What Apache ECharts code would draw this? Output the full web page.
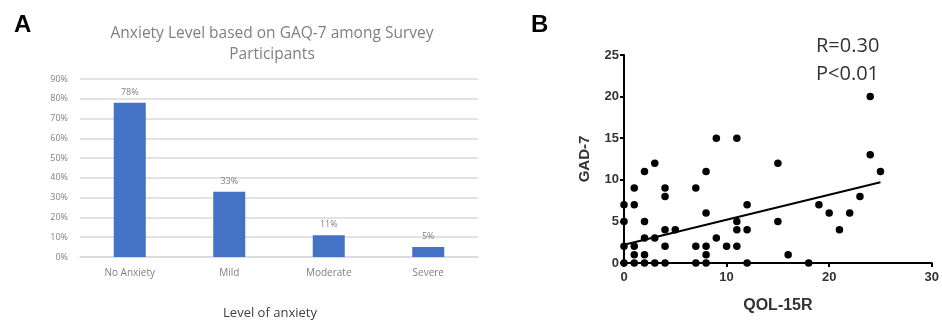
<!DOCTYPE html>
<html>
<head>
<meta charset="utf-8">
<script src="https://cdn.jsdelivr.net/npm/echarts@6/dist/echarts.min.js"></script>
<style>
  html, body { margin: 0; padding: 0; background: #fff; }
  #main { width: 942px; height: 320px; }
</style>
</head>
<body>
<div id="main"></div>
<script>
// panel A data
var levels = ['No Anxiety', 'Mild', 'Moderate', 'Severe'];
var levelPct = [78, 33, 11, 5];

// panel B data: [QOL-15R, GAD-7]
var qolGad = [
    [0,0],[0,2],[0,5],[0,7],
    [1,0],[1,1],[1,2],[1,7],[1,9],
    [2,0],[2,1],[2,3],[2,5],[2,11],
    [3,0],[3,3],[3,12],
    [4,0],[4,2],[4,4],[4,8],[4,9],
    [5,4],
    [7,0],[7,2],[7,9],
    [8,0],[8,1],[8,2],[8,6],[8,11],
    [9,3],[9,15],
    [10,2],
    [11,2],[11,4],[11,5],[11,15],
    [12,0],[12,4],[12,7],
    [15,5],[15,12],
    [16,1],
    [18,0],
    [19,7],
    [20,6],
    [21,4],
    [22,6],
    [23,8],
    [24,13],[24,20],
    [25,11]
];
// fitted line end points
var fitLine = [[0, 2.2], [25, 9.7]];

window.onload = function(){
    var myChart = echarts.init(document.getElementById('main'));
    var grayText = '#808080';
    var boldAxisLabel = {fontFamily: 'Liberation Sans', fontWeight: 'bold', fontSize: 13, color: '#333'};
    var option = {
        backgroundColor: '#fff',
        animation: false,
        title: [
            {
                text: 'A', left: 9, top: 8,
                textStyle: {fontFamily: 'Liberation Sans', fontWeight: 'bold', fontSize: 24, color: '#000'}
            },
            {
                text: 'B', left: 526, top: 8,
                textStyle: {fontFamily: 'Liberation Sans', fontWeight: 'bold', fontSize: 24, color: '#000'}
            },
            {
                text: 'Anxiety Level based on GAQ-7 among Survey\nParticipants',
                left: 267, top: 18, textAlign: 'center',
                textStyle: {fontFamily: 'Open Sans', fontWeight: 'normal', fontSize: 15.5, color: '#7f7f7f', lineHeight: 21}
            },
            {
                text: 'Level of anxiety',
                left: 265, top: 302, textAlign: 'center',
                textStyle: {fontFamily: 'Open Sans', fontWeight: 'normal', fontSize: 13, color: '#404040'}
            },
            {
                text: 'R=0.30\nP<0.01',
                left: 811, top: 27,
                textStyle: {fontFamily: 'Open Sans', fontWeight: 'normal', fontSize: 20, color: '#333', lineHeight: 28}
            }
        ],
        grid: [
            {left: 80, right: 464, top: 79, bottom: 63},
            {left: 624, right: 5.5, top: 55, bottom: 57}
        ],
        xAxis: [
            {
                gridIndex: 0,
                type: 'category',
                data: levels,
                axisLine: {lineStyle: {color: '#d9d9d9', width: 1.5}},
                axisTick: {show: false},
                axisLabel: {fontFamily: 'Open Sans', fontSize: 10, color: grayText, margin: 11}
            },
            {
                gridIndex: 1,
                type: 'value',
                min: 0, max: 30, interval: 10,
                name: 'QOL-15R',
                nameLocation: 'middle',
                nameGap: 35,
                nameTextStyle: {fontFamily: 'Liberation Sans', fontWeight: 'bold', fontSize: 16, color: '#333'},
                axisLine: {onZero: false, lineStyle: {color: '#000', width: 2}},
                axisTick: {show: true, length: 4, lineStyle: {color: '#000', width: 2}},
                axisLabel: Object.assign({margin: 8}, boldAxisLabel),
                splitLine: {show: false}
            }
        ],
        yAxis: [
            {
                gridIndex: 0,
                type: 'value',
                min: 0, max: 90, interval: 10,
                axisLine: {show: false},
                axisTick: {show: false},
                axisLabel: {formatter: '{value}%', fontFamily: 'Open Sans', fontSize: 9, color: grayText, margin: 12},
                splitLine: {lineStyle: {color: '#d9d9d9', width: 1.5}}
            },
            {
                gridIndex: 1,
                type: 'value',
                min: 0, max: 25, interval: 5,
                name: 'GAD-7',
                nameLocation: 'middle',
                nameGap: 32,
                nameTextStyle: {fontFamily: 'Liberation Sans', fontWeight: 'bold', fontSize: 15, color: '#333'},
                axisLine: {onZero: false, lineStyle: {color: '#000', width: 2}},
                axisTick: {show: true, length: 4, lineStyle: {color: '#000', width: 2}},
                axisLabel: Object.assign({margin: 5}, boldAxisLabel),
                splitLine: {show: false}
            }
        ],
        series: [
            {
                type: 'bar',
                xAxisIndex: 0, yAxisIndex: 0,
                barWidth: 32,
                itemStyle: {color: '#4472C4'},
                label: {
                    show: true, position: 'top', distance: 6,
                    formatter: '{c}%',
                    fontFamily: 'Open Sans', fontSize: 9, color: grayText
                },
                data: levelPct
            },
            {
                type: 'scatter',
                xAxisIndex: 1, yAxisIndex: 1,
                symbolSize: 7.5,
                itemStyle: {color: '#000', opacity: 1},
                data: qolGad,
                z: 3
            },
            {
                type: 'line',
                xAxisIndex: 1, yAxisIndex: 1,
                symbol: 'none',
                lineStyle: {color: '#000', width: 2},
                data: fitLine,
                z: 4
            }
        ]
    };
    myChart.setOption(option);
};
</script>
</body>
</html>
